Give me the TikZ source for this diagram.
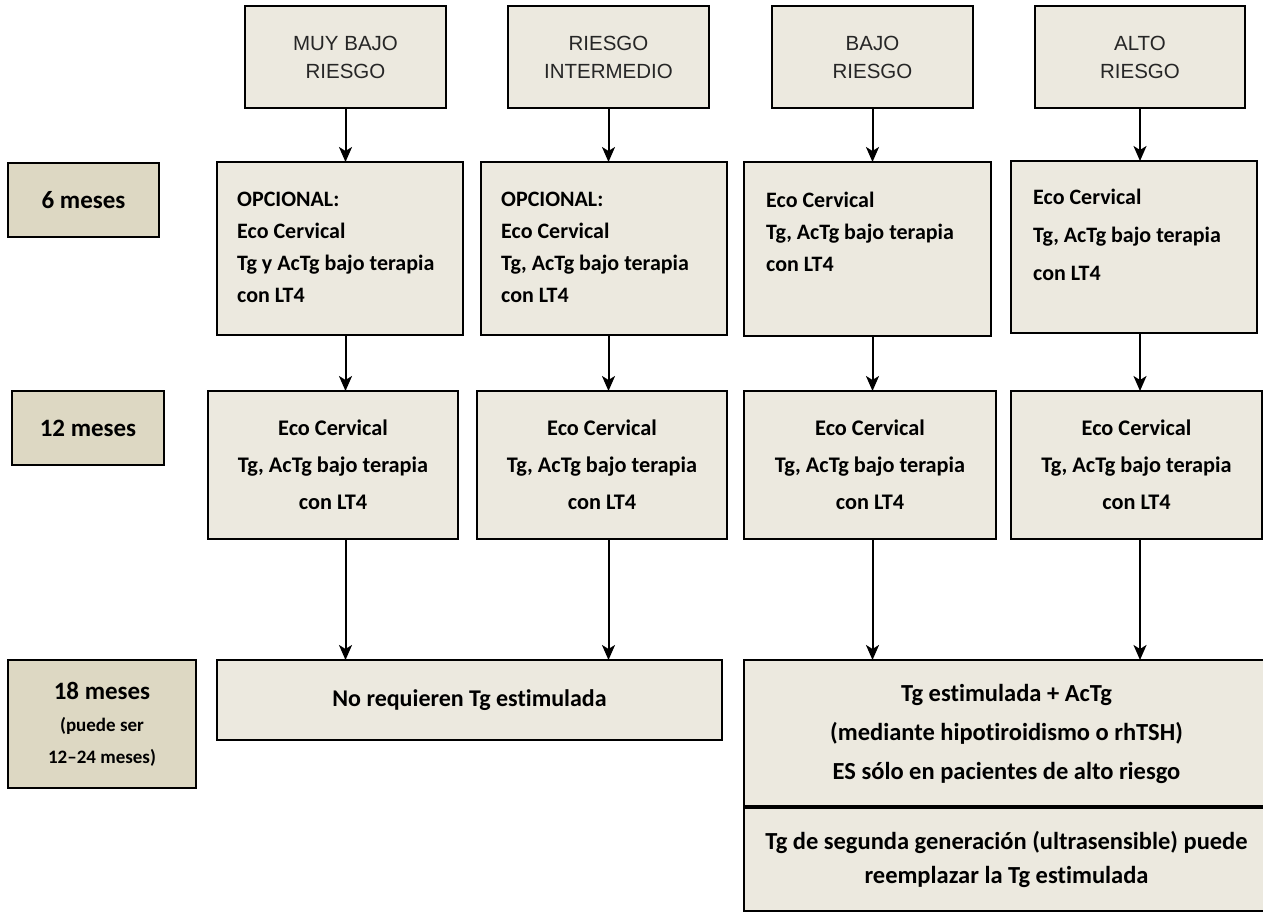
\documentclass[tikz,border=0pt]{standalone}
\usepackage{fontspec}
\setmainfont{Carlito}[Ligatures={TeX,NoCommon}]
\newfontfamily\arialfont{Liberation Sans}
\usetikzlibrary{arrows.meta}

\definecolor{fondo}{RGB}{236,233,223}
\definecolor{fondomes}{RGB}{221,216,195}

\tikzset{
  caja/.style={draw=black, line width=1.5pt, fill=fondo, anchor=north west,
    inner sep=0pt, outer sep=0pt, align=center},
  mes/.style={caja, fill=fondomes, font=\bfseries\fontsize{25}{32}\selectfont},
  riesgo/.style={caja, text=black!85, font=\arialfont\fontsize{20.5}{28}\selectfont},
  lista/.style={anchor=north west, inner sep=0pt, align=left,
    font=\bfseries\fontsize{22}{32}\selectfont},
  control/.style={caja, font=\bfseries\fontsize{22.3}{37}\selectfont},
  flecha/.style={line width=2pt, -{Stealth[length=15pt,width=13pt,inset=4pt]}}
}
\newcommand{\chico}{\fontsize{19}{31}\selectfont}

\begin{document}
\begin{tikzpicture}[x=1pt,y=-1pt]
\useasboundingbox (0,0) rectangle (1263,912);

% grupos de riesgo
\node[riesgo, minimum width=201pt, minimum height=102pt] (r1) at (245,6) {MUY BAJO\\RIESGO};
\node[riesgo, minimum width=201pt, minimum height=102pt] (r2) at (508,6) {RIESGO\\INTERMEDIO};
\node[riesgo, minimum width=201pt, minimum height=102pt] (r3) at (772,6) {BAJO\\RIESGO};
\node[riesgo, minimum width=210pt, minimum height=102pt] (r4) at (1035,6) {ALTO\\RIESGO};

% etapas
\node[mes, minimum width=151pt, minimum height=74pt] (m6) at (8,163) {6 meses};
\node[mes, minimum width=152pt, minimum height=74pt] (m12) at (12,391) {12 meses};
\node[mes, minimum width=188pt, minimum height=128pt] (m18) at (8,660)
  {18 meses\\ \chico (puede ser\\ \chico 12–24 meses)};

% 6 meses
\node[caja, minimum width=246pt, minimum height=173pt] (o1) at (217,162) {};
\node[caja, minimum width=246pt, minimum height=173pt] (o2) at (481,162) {};
\node[caja, minimum width=247pt, minimum height=174pt] (o3) at (744,162) {};
\node[caja, minimum width=246pt, minimum height=172pt] (o4) at (1011,161) {};
\node[lista] (l1) at ([shift={(20,30)}]o1.north west)
  {OPCIONAL:\\Eco Cervical\\Tg y AcTg bajo terapia\\con LT4};
\node[lista] (l2) at ([shift={(20,30)}]o2.north west)
  {OPCIONAL:\\Eco Cervical\\Tg, AcTg bajo terapia\\con LT4};
\node[lista] (l3) at ([shift={(22,30)}]o3.north west)
  {Eco Cervical\\Tg, AcTg bajo terapia\\con LT4};
\node[lista, font=\bfseries\fontsize{22}{38}\selectfont] (l4) at ([shift={(22,28)}]o4.north west)
  {Eco Cervical\\Tg, AcTg bajo terapia\\con LT4};

% 12 meses
\node[control, minimum width=250pt, minimum height=148pt] (e1) at (208,391)
  {Eco Cervical\\Tg, AcTg bajo terapia\\con LT4};
\node[control, minimum width=250pt, minimum height=148pt] (e2) at (477,391)
  {Eco Cervical\\Tg, AcTg bajo terapia\\con LT4};
\node[control, minimum width=252pt, minimum height=148pt] (e3) at (744,391)
  {Eco Cervical\\Tg, AcTg bajo terapia\\con LT4};
\node[control, minimum width=251pt, minimum height=148pt] (e4) at (1011,391)
  {Eco Cervical\\Tg, AcTg bajo terapia\\con LT4};

% 18 meses
\node[control, minimum width=505pt, minimum height=80pt, font=\bfseries\fontsize{24}{37}\selectfont] (nr) at (217,660)
  {No requieren Tg estimulada};
\node[control, minimum width=525pt, minimum height=147pt, font=\bfseries\fontsize{24.5}{39}\selectfont] (ta) at (744,660)
  {Tg estimulada + AcTg\\(mediante hipotiroidismo o rhTSH)\\ES sólo en pacientes de alto riesgo};
\node[control, minimum width=525pt, minimum height=104pt, font=\bfseries\fontsize{24.5}{34}\selectfont] (tb) at (744,807)
  {Tg de segunda generación (ultrasensible) puede\\reemplazar la Tg estimulada};
\draw[line width=3.5pt] (ta.south west) -- (ta.south east);

% flechas
\draw[flecha] (r1) -- (r1 |- o1.north);
\draw[flecha] (r2) -- (r2 |- o2.north);
\draw[flecha] (r3) -- (r3 |- o3.north);
\draw[flecha] (r4) -- (r4 |- o4.north);
\draw[flecha] (r1 |- o1.south) -- (r1 |- e1.north);
\draw[flecha] (r2 |- o2.south) -- (r2 |- e2.north);
\draw[flecha] (r3 |- o3.south) -- (r3 |- e3.north);
\draw[flecha] (r4 |- o4.south) -- (r4 |- e4.north);
\draw[flecha] (r1 |- e1.south) -- (r1 |- nr.north);
\draw[flecha] (r2 |- e2.south) -- (r2 |- nr.north);
\draw[flecha] (r3 |- e3.south) -- (r3 |- ta.north);
\draw[flecha] (r4 |- e4.south) -- (r4 |- ta.north);
\end{tikzpicture}
\end{document}
